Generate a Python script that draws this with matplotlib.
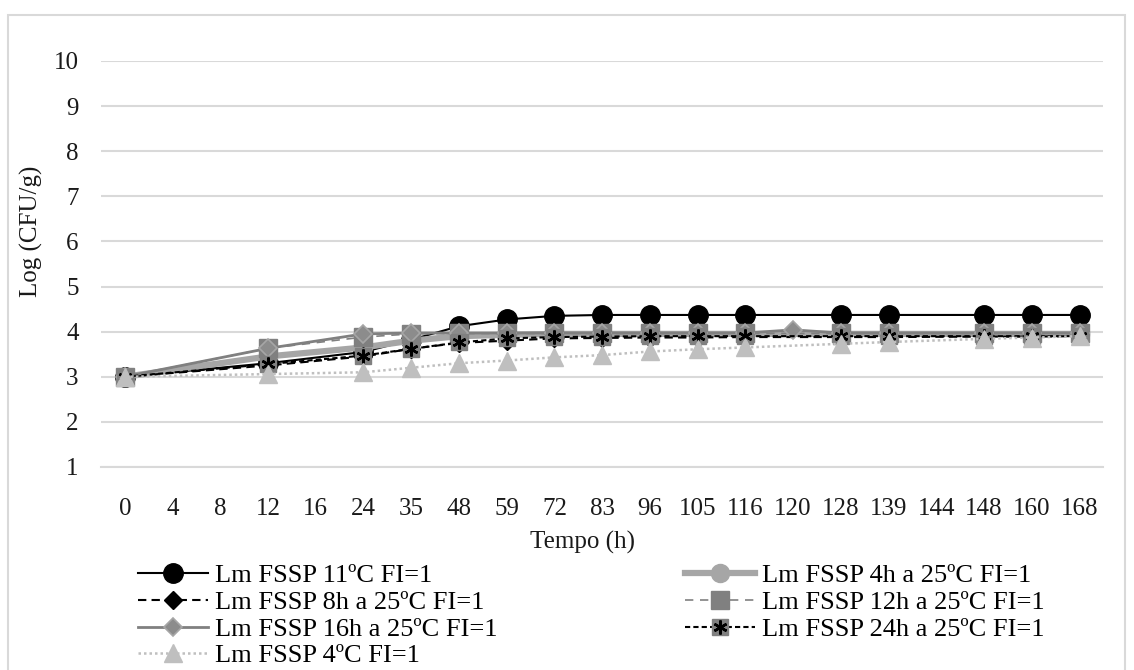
import numpy as np
import matplotlib
matplotlib.use('Agg')
import matplotlib.pyplot as plt
from matplotlib.patches import Rectangle
from matplotlib.legend_handler import HandlerTuple

plt.rcParams['font.family'] = ['Liberation Serif', 'DejaVu Serif']

# sampling times (h), shown as categories
tempo = ['0', '4', '8', '12', '16', '24', '35', '48', '59', '72', '83', '96',
         '105', '116', '120', '128', '139', '144', '148', '160', '168']

nan = np.nan
# Log (CFU/g) per category, nan = not sampled
lm_11c = [3.00, nan, nan, 3.30, nan, 3.55, 3.82, 4.12, 4.27, 4.35, 4.37, 4.37,
          4.37, 4.37, nan, 4.37, 4.37, nan, 4.37, 4.37, 4.37]
lm_4h = [3.00, nan, nan, 3.45, nan, 3.65, 3.80, 3.90, 3.93, 3.95, 3.95, 3.95,
         3.95, 3.95, nan, 3.95, 3.95, nan, 3.95, 3.95, 3.95]
lm_8h = [3.00, nan, nan, 3.25, nan, 3.45, 3.62, 3.75, 3.80, 3.85, 3.86, 3.87,
         3.87, 3.88, nan, 3.88, 3.88, nan, 3.89, 3.89, 3.90]
lm_12h = [3.00, nan, nan, 3.63, nan, 3.88, 3.95, 3.96, 3.96, 3.96, 3.96, 3.96,
          3.96, 3.96, nan, 3.96, 3.96, nan, 3.96, 3.96, 3.96]
lm_16h = [3.00, nan, nan, 3.63, nan, 3.95, 3.97, 3.97, 3.97, 3.97, 3.97, 3.97,
          3.97, 3.97, 4.04, 3.97, 3.97, nan, 3.97, 3.97, 3.97]
lm_24h = [3.00, nan, nan, 3.28, nan, 3.47, 3.62, 3.76, 3.85, 3.88, 3.89, 3.90,
          3.90, 3.90, nan, 3.90, 3.90, nan, 3.90, 3.90, 3.90]
lm_4c = [3.00, nan, nan, 3.06, nan, 3.10, 3.20, 3.30, 3.36, 3.43, 3.48, 3.56,
         3.61, 3.65, nan, 3.73, 3.77, nan, 3.84, 3.87, 3.90]

labels = ['Lm FSSP 11ºC FI=1', 'Lm FSSP 4h a 25ºC FI=1', 'Lm FSSP 8h a 25ºC FI=1',
          'Lm FSSP 12h a 25ºC FI=1', 'Lm FSSP 16h a 25ºC FI=1',
          'Lm FSSP 24h a 25ºC FI=1', 'Lm FSSP 4ºC FI=1']

fs = 18
fig = plt.figure(figsize=(11.34, 6.70), dpi=100)
ax = fig.add_axes([0.089, 0.303, 0.884, 0.606])

# outer chart frame
fig.patches.append(Rectangle((8 / 1134, -0.1), 1117 / 1134, 1.1 - 15 / 670,
                             transform=fig.transFigure, fill=False,
                             edgecolor='#d9d9d9', linewidth=1.5))

x = np.arange(len(tempo))
ms = 13


def pts(vals):
    v = np.array(vals, dtype=float)
    m = ~np.isnan(v)
    return x[m], v[m]


h = {}
h[0], = ax.plot(*pts(lm_11c), color='black', lw=1.5, marker='o', ms=14,
                mfc='black', mec='black', zorder=3)
h[1], = ax.plot(*pts(lm_4h), color='#a6a6a6', lw=4.5, marker='o', ms=ms,
                mfc='#a6a6a6', mec='#a6a6a6', zorder=3)
h[2], = ax.plot(*pts(lm_8h), color='black', lw=1.5, ls=(0, (4, 2.5)), marker='D',
                ms=9, mfc='black', mec='black', zorder=3)
h[3], = ax.plot(*pts(lm_12h), color='#808080', lw=1.2, ls=(0, (5, 4)), marker='s',
                ms=ms, mfc='#808080', mec='#808080', zorder=3)
h[4], = ax.plot(*pts(lm_16h), color='#808080', lw=2.0, marker='D', ms=9,
                mfc='#8c8c8c', mec='#a6a6a6', mew=1.2, zorder=3)
sq, = ax.plot(*pts(lm_24h), color='black', lw=1.5, ls=(0, (2.5, 1.5)), marker='s',
              ms=11, mfc='#808080', mec='#808080', zorder=3)
st, = ax.plot(*pts(lm_24h), ls='none', marker=(6, 2, 0), ms=10, mec='black',
              mew=1.8, zorder=3)
h[5] = (sq, st)
h[6], = ax.plot(*pts(lm_4c), color='#bfbfbf', lw=1.8, ls=(0, (1, 1.2)), marker='^',
                ms=ms, mfc='#bfbfbf', mec='#bfbfbf', zorder=3)

ax.set_xlim(-0.5, len(tempo) - 0.5)
ax.set_ylim(1, 10)
ax.set_xticks(x)
ax.set_xticklabels(tempo)
ax.set_yticks(np.arange(1, 11))
ax.tick_params(length=0, labelsize=fs, colors='#1a1a1a')
ax.tick_params(axis='x', pad=22)
ax.tick_params(axis='y', pad=16)
ax.grid(axis='y', color='#d9d9d9', lw=1.5)
ax.set_axisbelow(True)
for s in ['top', 'right', 'left']:
    ax.spines[s].set_visible(False)
ax.spines['bottom'].set_color('#d9d9d9')
ax.spines['bottom'].set_linewidth(1.5)

ax.set_xlabel('Tempo (h)', fontsize=fs, color='#1a1a1a')
ax.set_ylabel('Log (CFU/g)', fontsize=fs, color='#1a1a1a')
ax.xaxis.set_label_coords(0.48, -0.158)
ax.yaxis.set_label_coords(-0.058, 0.58)

# legend, two columns read row by row
leg_kw = dict(frameon=False, fontsize=19, handlelength=2.65, handletextpad=0.27,
              labelspacing=0.12, borderpad=0, borderaxespad=0,
              handler_map={tuple: HandlerTuple(ndivide=1, pad=0)})
leg1 = fig.legend([h[0], h[2], h[4], h[6]], [labels[0], labels[2], labels[4], labels[6]],
                  loc='upper left', bbox_to_anchor=(138 / 1134, 1 - 564 / 670), **leg_kw)
leg2 = fig.legend([h[1], h[3], h[5]], [labels[1], labels[3], labels[5]],
                  loc='upper left', bbox_to_anchor=(685 / 1134, 1 - 564 / 670), **leg_kw)

fig.savefig('out.png', dpi=100)
